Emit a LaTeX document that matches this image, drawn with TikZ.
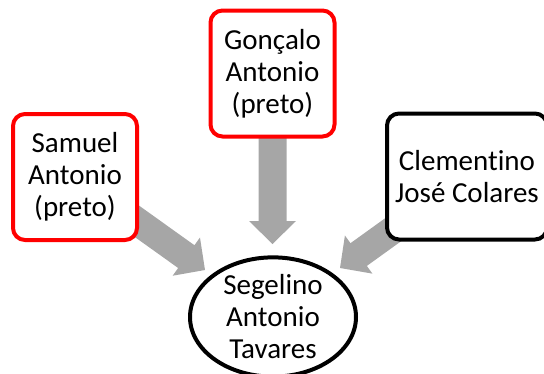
\documentclass[tikz,border=0pt]{standalone}
\usepackage{fontspec}
\setmainfont{Carlito}[Ligatures={NoCommon,NoRare}]
\usetikzlibrary{shapes.geometric,calc,backgrounds}
\definecolor{arrowgray}{HTML}{A6A6A6}
\definecolor{boxred}{HTML}{FF0000}
\newcommand\fatarrow[2]{%
  \coordinate (fh) at ($(#2)!23pt!(#1)$);
  \fill[arrowgray] ($(#1)!14pt!90:(#2)$) -- ($(fh)!14pt!-90:(#1)$) -- ($(fh)!23.5pt!-90:(#1)$) -- (#2)
     -- ($(fh)!23.5pt!90:(#1)$) -- ($(fh)!14pt!90:(#1)$) -- ($(#1)!14pt!-90:(#2)$) -- cycle;}
\begin{document}
\begin{tikzpicture}[x=1pt,y=-1pt,
  txt/.style={align=center, font=\fontsize{29}{32}\selectfont, inner sep=0pt},
  box/.style={txt, draw, line width=4pt, rounded corners=12pt, fill=white},
  redbox/.style={box, draw=boxred, minimum width=124pt, minimum height=126pt},
  blackbox/.style={box, draw=black, minimum width=160pt, minimum height=126pt},
  oval/.style={txt, ellipse, draw=black, line width=4pt, fill=white, minimum width=166pt, minimum height=108pt}
]
\useasboundingbox (0,0) rectangle (544,373);
\clip (0,0) rectangle (544,373);
\node[redbox] (samuel) at (75,177) {Samuel\\Antonio\\(preto)};
\node[redbox] (goncalo) at (272.5,73.5) {Gonçalo\\Antonio\\(preto)};
\node[blackbox] (clem) at (467,176.5) {Clementino\\José Colares};
\node[oval] (seg) at (273,317) {Segelino\\Antonio\\Tavares};
\coordinate (tipA) at (205,270);
\coordinate (tipB) at (272.5,244);
\coordinate (tipC) at (340,268);
\begin{scope}[on background layer]
  \fatarrow{samuel.center}{tipA}
  \fatarrow{goncalo.center}{tipB}
  \fatarrow{clem.center}{tipC}
\end{scope}
\end{tikzpicture}
\end{document}
